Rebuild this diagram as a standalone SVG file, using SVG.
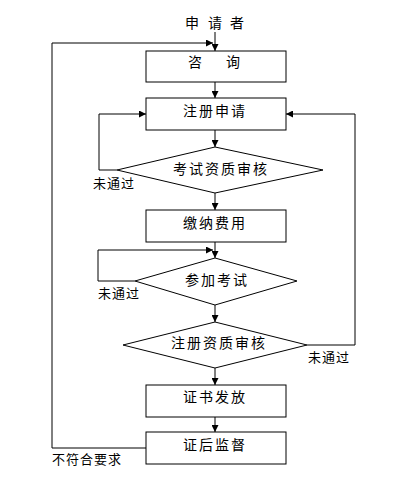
<svg xmlns="http://www.w3.org/2000/svg" width="401" height="482" viewBox="0 0 401 482">
<style>
.box{fill:#fff;stroke:#000;stroke-width:1}
.ar{fill:none;stroke:#000;stroke-width:1;marker-end:url(#ah)}
text{font-family:"Liberation Sans","Noto Sans CJK SC",sans-serif;fill:#000}
.t{font-size:14px;text-anchor:middle;letter-spacing:2px}
.c{font-size:14px;text-anchor:middle}
.l{font-size:13px;letter-spacing:1px}
</style>
<defs>
<marker id="ah" viewBox="0 0 8 8" refX="8" refY="4" markerWidth="7" markerHeight="7" markerUnits="userSpaceOnUse" orient="auto">
<path d="M0,0 L8,4 L0,8 Z" fill="#000"/>
</marker>
</defs>
<rect width="401" height="482" fill="#fff"/>
<g id="connectors">
<line class="ar" x1="215" y1="32" x2="215" y2="51"/>
<polyline class="ar" points="146,448 52,448 52,43 213,43"/>
<line class="ar" x1="215" y1="82" x2="215" y2="98"/>
<line class="ar" x1="215" y1="130" x2="215" y2="147"/>
<polyline class="ar" points="117,170 99,170 99,114 146,114"/>
<polyline class="ar" points="307,345 355,345 355,114 286,114"/>
<line class="ar" x1="215" y1="193" x2="215" y2="210"/>
<line class="ar" x1="215" y1="242" x2="215" y2="258"/>
<polyline class="ar" points="135,281 98,281 98,250 213,250"/>
<line class="ar" x1="215" y1="305" x2="215" y2="322"/>
<line class="ar" x1="215" y1="368" x2="215" y2="385"/>
<line class="ar" x1="215" y1="417" x2="215" y2="432"/>
</g>
<g id="applicant"><text class="c" x="192" y="28">申</text><text class="c" x="215" y="28">请</text><text class="c" x="237" y="28">者</text></g>
<g id="n1"><rect class="box" x="146" y="51" width="140" height="31"/><text class="c" x="195" y="67">咨</text><text class="c" x="233" y="67">询</text></g>
<g id="n2"><rect class="box" x="146" y="98" width="140" height="32"/><text class="t" x="215" y="116">注册申请</text></g>
<g id="n3"><polygon class="box" points="215,147 323,170 215,193 117,170"/><text class="t" x="221" y="174">考试资质审核</text></g>
<g id="n4"><rect class="box" x="146" y="210" width="140" height="32"/><text class="t" x="215" y="228">缴纳费用</text></g>
<g id="n5"><polygon class="box" points="215,258 297,281 215,305 135,281"/><text class="t" x="217" y="285">参加考试</text></g>
<g id="n6"><polygon class="box" points="215,322 307,345 215,368 123,345"/><text class="t" x="219" y="348">注册资质审核</text></g>
<g id="n7"><rect class="box" x="146" y="385" width="140" height="32"/><text class="t" x="215" y="402">证书发放</text></g>
<g id="n8"><rect class="box" x="146" y="432" width="140" height="32"/><text class="t" x="215" y="450">证后监督</text></g>
<text class="l" x="93" y="188">未通过</text>
<text class="l" x="98" y="298">未通过</text>
<text class="l" x="308" y="362">未通过</text>
<text class="l" x="52" y="464">不符合要求</text>
</svg>
